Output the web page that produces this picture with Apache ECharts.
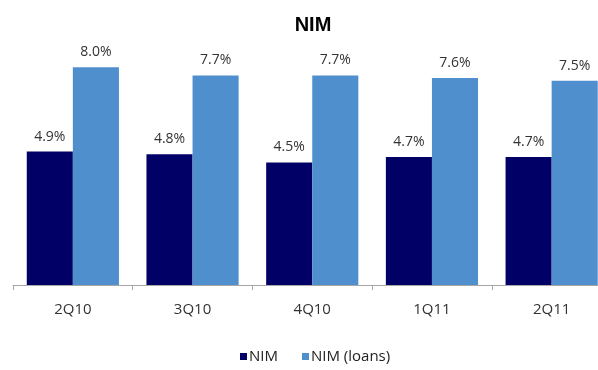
<!DOCTYPE html>
<html>
<head>
<meta charset="utf-8">
<script src="https://cdn.jsdelivr.net/npm/echarts@6/dist/echarts.min.js"></script>
<style>
  html, body { margin: 0; padding: 0; background: #fff; }
  #chart { width: 598px; height: 370px; }
</style>
</head>
<body>
<div id="chart"></div>
<script>
// Quarterly net interest margin, in percent
const quarters = ['2Q10', '3Q10', '4Q10', '1Q11', '2Q11'];
const nim = [4.9, 4.8, 4.5, 4.7, 4.7];
const nimLoans = [8.0, 7.7, 7.7, 7.6, 7.5];

const FONT = '"Open Sans", "DejaVu Sans", sans-serif';

const chart = echarts.init(document.getElementById('chart'), null, { renderer: 'canvas' });

const labelStyle = {
  show: true,
  position: 'top',
  distance: 8,
  color: '#333',
  fontSize: 14,
  fontFamily: FONT,
  formatter: p => p.value.toFixed(1) + '%'
};

chart.setOption({
  animation: false,
  backgroundColor: '#fff',
  title: {
    text: 'NIM',
    left: 308,
    textAlign: 'center',
    top: 10,
    textStyle: { fontFamily: '"Liberation Sans", Arial, sans-serif', fontWeight: 'bold', fontSize: 20, color: '#000' }
  },
  legend: {
    bottom: 1,
    left: 235,
    itemWidth: 7,
    itemHeight: 7,
    itemGap: 24,
    icon: 'rect',
    textStyle: { fontFamily: FONT, fontSize: 15, color: '#222', padding: [0, 0, 0, -3] },
    data: ['NIM', 'NIM (loans)']
  },
  // plot area runs past the right edge, so the last group is cut off
  grid: { left: 13, width: 598.5, top: 40, bottom: 85, containLabel: false, outerBoundsMode: 'none' },
  xAxis: {
    type: 'category',
    data: quarters,
    axisLine: { lineStyle: { color: '#a6a6a6', width: 1 } },
    axisTick: { show: true, length: 5, lineStyle: { color: '#a6a6a6' } },
    axisLabel: { color: '#333', fontSize: 15, fontFamily: FONT, margin: 17 }
  },
  yAxis: {
    type: 'value',
    min: 0,
    max: 9,
    show: false,
    splitLine: { show: false }
  },
  series: [
    {
      name: 'NIM',
      type: 'bar',
      data: nim,
      itemStyle: { color: '#000066' },
      barGap: '0%',
      barCategoryGap: '23%',
      label: labelStyle
    },
    {
      name: 'NIM (loans)',
      type: 'bar',
      data: nimLoans,
      itemStyle: { color: '#4f8fcd' },
      barGap: '0%',
      barCategoryGap: '23%',
      label: labelStyle
    }
  ]
});
</script>
</body>
</html>
